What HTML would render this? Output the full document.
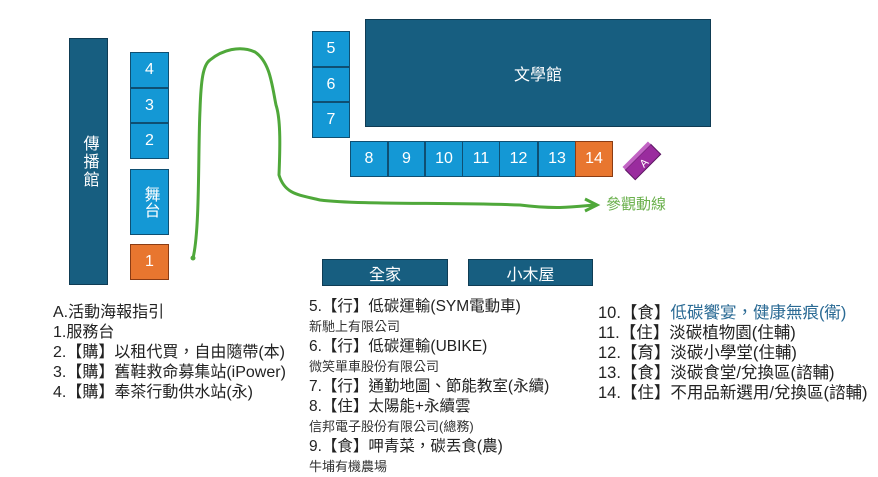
<!DOCTYPE html>
<html><head><meta charset="utf-8"><style>
body{margin:0;width:878px;height:476px;background:#fff;position:relative;overflow:hidden;font-family:"Liberation Sans","Noto Sans CJK TC",sans-serif}
.b{position:absolute;box-sizing:border-box;color:#fff;display:flex;align-items:center;justify-content:center;font-size:16px}
.d{background:#175e80;border:1px solid #0f3c54}
.l{background:#1498d5;border:1px solid #0f4f72}
.o{background:#e8762f;border:1px solid #8a3c14}
.t{position:absolute;white-space:nowrap;color:#222;font-size:15px;line-height:20px}
.s{font-size:13px;color:#333}
</style></head><body>
<div class="b d" style="left:69px;top:38px;width:39px;height:247px;writing-mode:vertical-rl;letter-spacing:2px">傳播館</div>
<div class="b l" style="left:130px;top:52px;width:39px;height:36px">4</div>
<div class="b l" style="left:130px;top:88px;width:39px;height:35px">3</div>
<div class="b l" style="left:130px;top:123px;width:39px;height:36px">2</div>
<div class="b l" style="left:130px;top:169px;width:39px;height:66px;writing-mode:vertical-rl">舞台</div>
<div class="b o" style="left:130px;top:244px;width:39px;height:36px">1</div>
<div class="b l" style="left:312px;top:31px;width:38px;height:36px">5</div>
<div class="b l" style="left:312px;top:67px;width:38px;height:35px">6</div>
<div class="b l" style="left:312px;top:102px;width:38px;height:36px">7</div>
<div class="b d" style="left:365px;top:19px;width:346px;height:108px">文學館</div>
<div class="b l" style="left:350px;top:141px;width:38px;height:36px">8</div>
<div class="b l" style="left:388px;top:141px;width:37px;height:36px">9</div>
<div class="b l" style="left:425px;top:141px;width:38px;height:36px">10</div>
<div class="b l" style="left:462px;top:141px;width:38px;height:36px">11</div>
<div class="b l" style="left:499px;top:141px;width:39px;height:36px">12</div>
<div class="b l" style="left:538px;top:141px;width:38px;height:36px">13</div>
<div class="b o" style="left:575px;top:141px;width:38px;height:36px">14</div>
<div class="b d" style="left:322px;top:259px;width:126px;height:27px">全家</div>
<div class="b d" style="left:468px;top:259px;width:125px;height:27px">小木屋</div>
<svg style="position:absolute;left:0;top:0" width="878" height="476">
<path d="M193,258 C200,230 198,150 200,110 C201,80 203,65 210,60 C222,50 240,45 255,52 C270,62 272,85 276,105 C281,120 280,150 279,175 C285,195 300,195 320,200 C360,205 450,202 520,205 C560,210 580,206 595,205" fill="none" stroke="#4fa83a" stroke-width="3"/>
<circle cx="193" cy="258" r="2.5" fill="#4fa83a"/>
<path d="M585,199 L597,205 L585,211" fill="none" stroke="#4fa83a" stroke-width="3"/>
<g transform="translate(643,162) rotate(-45)">
<rect x="-18" y="-7" width="36" height="14" fill="#9a2c9e" stroke="#5a1560"/>
<rect x="-18" y="-11" width="36" height="4" fill="#c264c4"/>
<text x="0" y="5" fill="#fff" font-size="11" text-anchor="middle" font-family="Liberation Sans">A</text>
</g>
</svg>
<div class="t" style="left:606px;top:195px;color:#6ab04c;font-size:15px">參觀動線</div>
<div class="t" style="left:53px;top:303px;font-size:16px">A.活動海報指引<br>1.服務台<br>2.【購】以租代買，自由隨帶(本)<br>3.【購】舊鞋救命募集站(iPower)<br>4.【購】奉茶行動供水站(永)</div>
<div class="t" style="left:309px;top:297px;font-size:15.5px">5.【行】低碳運輸(SYM電動車)<br><span class="s">新馳上有限公司</span><br>6.【行】低碳運輸(UBIKE)<br><span class="s">微笑單車股份有限公司</span><br>7.【行】通勤地圖、節能教室(永續)<br>8.【住】太陽能+永續雲<br><span class="s">信邦電子股份有限公司(總務)</span><br>9.【食】呷青菜，碳丟食(農)<br><span class="s">牛埔有機農場</span></div>
<div class="t" style="left:598px;top:303px;font-size:16.5px">10.【食】<span style="color:#2a6a94">低碳饗宴，健康無痕(衛)</span><br>11.【住】淡碳植物園(住輔)<br>12.【育】淡碳小學堂(住輔)<br>13.【食】淡碳食堂/兌換區(諮輔)<br>14.【住】不用品新選用/兌換區(諮輔)</div>
</body></html>
